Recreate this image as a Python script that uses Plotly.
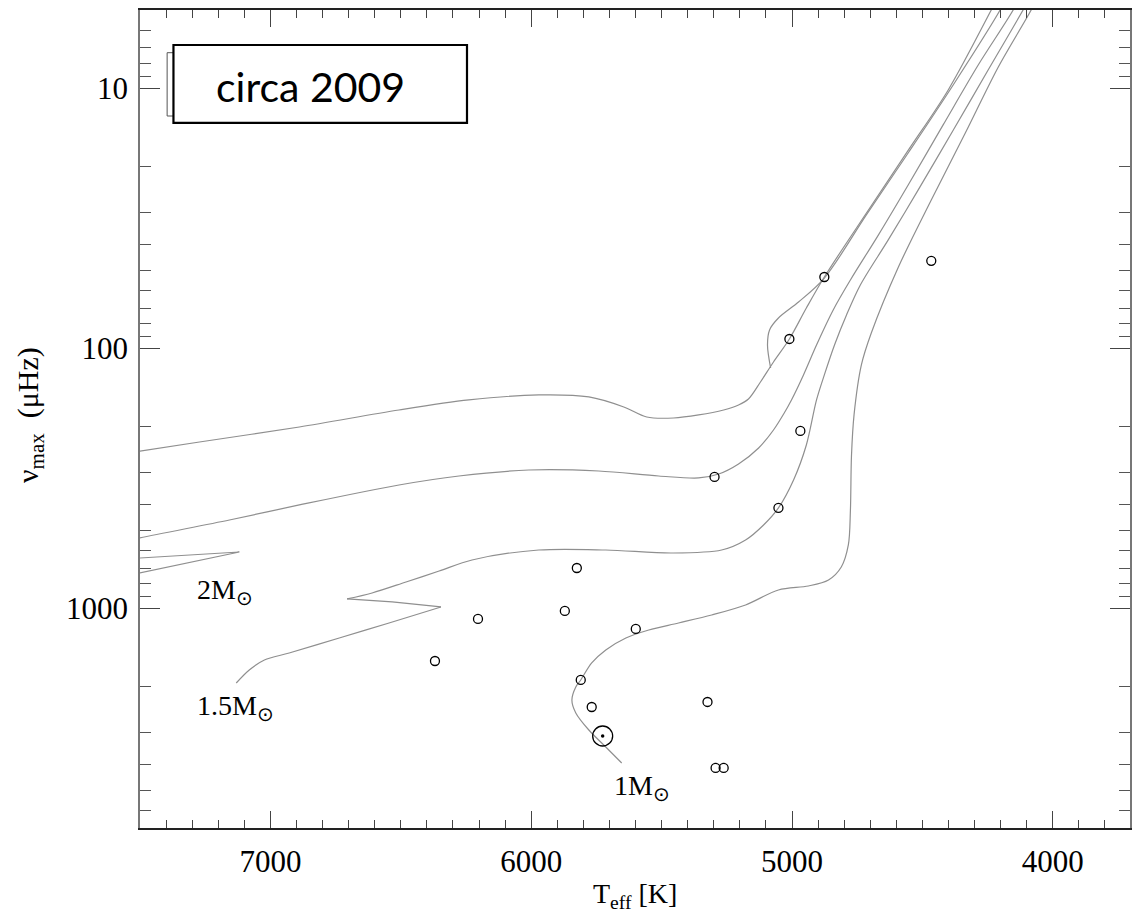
import math
import plotly.graph_objects as go

# ---------------- data ----------------
# Evolutionary tracks (Teff [K], nu_max [muHz])
teff_A = [7600, 7272, 6889, 6507, 6239, 5971, 5779, 5645, 5557, 5454, 5358, 5262, 5205, 5167, 5121, 5071, 5010, 4945, 4876, 4707, 4554, 4401, 4236, 4175]
numax_A = [257.3, 229.3, 200.8, 172.7, 158.0, 151.2, 153.9, 168.2, 183.8, 185.4, 180.5, 172.7, 165.2, 156.7, 134.8, 112.9, 92.1, 70.0, 53.2, 29.4, 17.3, 10.15, 5.0, 3.8]

teff_Aclump = [5082, 5094, 5086, 5052, 4975, 4876, 4715, 4554, 4382, 4202, 4163]
numax_Aclump = [119.1, 97.1, 85.0, 76.5, 66.4, 53.7, 30.7, 17.7, 9.71, 5.0, 4.19]

teff_B = [7600, 7502, 7157, 6889, 6507, 6277, 6009, 5741, 5511, 5358, 5281, 5205, 5128, 5071, 5032, 5002, 4956, 4906, 4841, 4776, 4669, 4554, 4420, 4286, 4152, 4114]
numax_B = [565.9, 536.6, 457.6, 400.5, 335.6, 309.9, 293.9, 296.5, 309.9, 315.3, 304.5, 278.6, 241.8, 206.2, 178.9, 158.0, 126.6, 97.1, 70.9, 54.6, 36.7, 23.5, 13.8, 8.14, 5.0, 4.2]

teff_2ms = [7600, 7119, 7600]
numax_2ms = [768.0, 607.5, 649.6]

teff_15 = [7131, 7081, 7023, 6928, 6736, 6545, 6346, 6533, 6706, 6610, 6480, 6353, 6227, 5971, 5714, 5461, 5270, 5178, 5109, 5052, 4994, 4945, 4906, 4876, 4837, 4791, 4738, 4631, 4516, 4382, 4248, 4114, 4083]
numax_15 = [1938, 1727, 1581, 1486, 1301, 1139, 988.5, 945.7, 920.8, 873.4, 792.4, 718.9, 651.9, 596.9, 596.9, 612.9, 596.9, 546.2, 478.2, 411.0, 321.0, 235.5, 158.0, 126.6, 97.1, 74.5, 57.1, 38.3, 24.6, 14.5, 8.51, 5.0, 4.38]
hook_15 = (6, 8)  # indices of the two sharp turning points of the 1.5 Msun track

teff_1 = [5653, 5714, 5779, 5829, 5844, 5829, 5810, 5768, 5714, 5637, 5549, 5435, 5308, 5178, 5052, 4937, 4860, 4811, 4784, 4776, 4772, 4762, 4734, 4696, 4592, 4466, 4336, 4209, 4083, 4056]
numax_1 = [3936, 3417, 2939, 2527, 2253, 2008, 1887, 1623, 1447, 1301, 1212, 1139, 1061, 971, 850.4, 820.8, 778.4, 693.7, 570.9, 418.8, 260.0, 180.0, 115.9, 87.4, 48.7, 26.9, 14.9, 8.28, 5.0, 4.4]

# Observed stars
star_teff = [6204, 6369, 5825, 5871, 5599, 5810, 5768, 5324, 5293, 5262, 5297, 5052, 4968, 5010, 4876, 4466]
star_numax = [1099, 1595, 700, 1024, 1201, 1887, 2397, 2293, 4113, 4113, 312.6, 411, 208, 92.1, 53.2, 46.1]

sun_teff = [5726]
sun_numax = [3099]

x_tickvals = [7000, 6000, 5000, 4000]
y_tickvals = [10, 100, 1000]
y_ticktext = ["10", "100", "1000"]

track_labels = ["2M<sub>⊙</sub>", "1.5M<sub>⊙</sub>", "1M<sub>⊙</sub>"]
track_label_teff = [7291, 7288, 5691]
track_label_numax = [860, 2400, 4900]

# ---------------- figure ----------------
TRACK_COLOR = "#8f8f8f"
fig = go.Figure()


def add_line(tx, ny, smooth):
    line = dict(color=TRACK_COLOR, width=1.2)
    if smooth:
        line.update(shape="spline", smoothing=0.9)
    fig.add_trace(go.Scatter(x=tx, y=ny, mode="lines", line=line,
                             showlegend=False, hoverinfo="skip"))


for tx, ny in [(teff_A, numax_A), (teff_Aclump, numax_Aclump), (teff_B, numax_B), (teff_1, numax_1)]:
    add_line(tx, ny, True)
add_line(teff_2ms, numax_2ms, False)
h1, h2 = hook_15
add_line(teff_15[:h1 + 1], numax_15[:h1 + 1], True)
add_line(teff_15[h1:h2 + 1], numax_15[h1:h2 + 1], False)
add_line(teff_15[h2:], numax_15[h2:], True)

fig.add_trace(go.Scatter(x=star_teff, y=star_numax, mode="markers",
                         marker=dict(size=9, color="rgba(255,255,255,0)",
                                     line=dict(color="black", width=1.3)),
                         showlegend=False))
fig.add_trace(go.Scatter(x=sun_teff, y=sun_numax, mode="markers",
                         marker=dict(size=20, color="rgba(255,255,255,0)",
                                     line=dict(color="black", width=1.3)),
                         showlegend=False))
fig.add_trace(go.Scatter(x=sun_teff, y=sun_numax, mode="markers",
                         marker=dict(size=3.5, color="black"),
                         showlegend=False))

# minor tick positions for log axis
y_minor = []
for dec in [1, 10, 100, 1000]:
    for m in range(2, 10):
        v = m * dec
        if 5 <= v <= 7000:
            y_minor.append(v)

SERIF = "Liberation Serif"
tick_font = dict(family=SERIF, size=31, color="black")

fig.update_xaxes(range=[7500, 3704], showgrid=False, zeroline=False,
                 showline=True, linecolor="#222", linewidth=1.5, mirror="ticks",
                 ticks="inside", ticklen=17, tickwidth=1.2, tickcolor="#444",
                 tickmode="array", tickvals=x_tickvals, tickfont=tick_font,
                 ticklabelstandoff=5,
                 minor=dict(ticks="inside", ticklen=8, tickwidth=1.2, tickcolor="#444",
                            dtick=100, tick0=0, showgrid=False))
fig.update_yaxes(type="log", range=[3.8451, 0.69897], showgrid=False, zeroline=False,
                 showline=True, linecolor="#777", linewidth=1.5, mirror="ticks",
                 ticks="inside", ticklen=20, tickwidth=1.2, tickcolor="#444",
                 tickmode="array", tickvals=y_tickvals, ticktext=y_ticktext,
                 tickfont=tick_font, ticklabelstandoff=4,
                 minor=dict(ticks="inside", ticklen=11, tickwidth=1.2, tickcolor="#555",
                            tickmode="array", tickvals=y_minor, showgrid=False))

annotations = []
for txt, tx, ny in zip(track_labels, track_label_teff, track_label_numax):
    annotations.append(dict(x=tx, y=math.log10(ny), xref="x", yref="y", yanchor="middle",
                            xanchor="left", text=txt, showarrow=False,
                            font=dict(family=SERIF, size=28, color="black")))
# axis titles
annotations.append(dict(x=0.5, y=-0.082, xref="paper", yref="paper",
                        text="T<sub>eff</sub> [K]", showarrow=False,
                        xanchor="center", yanchor="middle",
                        font=dict(family=SERIF, size=28, color="black")))
annotations.append(dict(x=-0.111, y=0.505, xref="paper", yref="paper",
                        text="ν<sub>max</sub>  (μHz)", showarrow=False, textangle=-90,
                        xanchor="center", yanchor="middle",
                        font=dict(family=SERIF, size=30, color="black")))
# "circa 2009" label
annotations.append(dict(x=0.1725, y=0.907, xref="paper", yref="paper",
                        text="circa 2009", showarrow=False,
                        xanchor="center", yanchor="middle",
                        font=dict(family="Lato", size=41, color="black")))

shapes = [
    dict(type="rect", xref="paper", yref="paper", x0=0.0274, x1=0.06, y0=0.8704, y1=0.9478,
         line=dict(color="#555", width=1), fillcolor="white", layer="above"),
    dict(type="rect", xref="paper", yref="paper", x0=0.0338, x1=0.3303, y0=0.8619, y1=0.9572,
         line=dict(color="black", width=2.2), fillcolor="white", layer="above"),
]

fig.update_layout(width=1132, height=917, margin=dict(l=140, r=0, t=10, b=89),
                  paper_bgcolor="white", plot_bgcolor="white",
                  annotations=annotations, shapes=shapes, showlegend=False)

fig.write_html("out.html")
